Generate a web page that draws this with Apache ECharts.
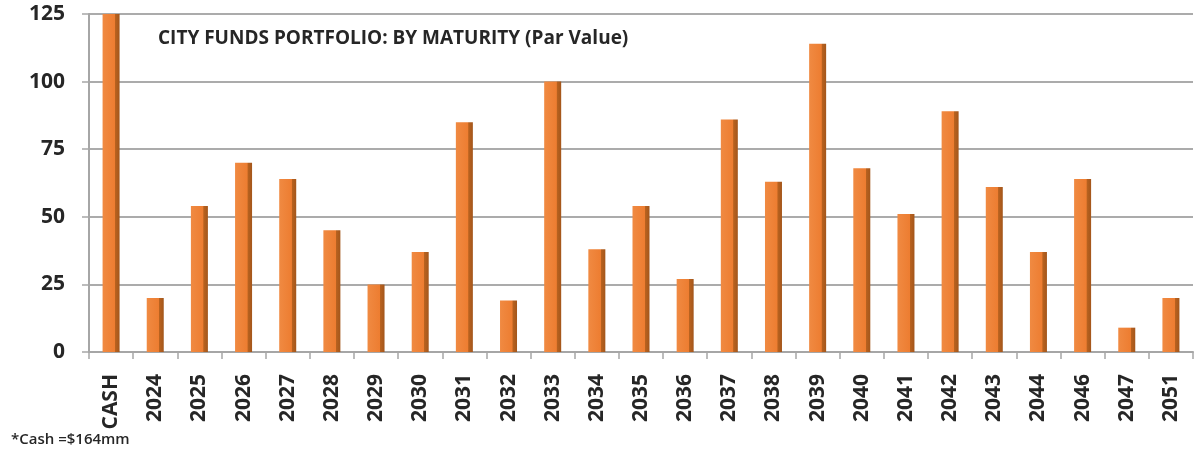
<!DOCTYPE html>
<html>
<head>
<meta charset="utf-8">
<script src="https://cdn.jsdelivr.net/npm/echarts@6/dist/echarts.min.js"></script>
<style>
  html, body { margin: 0; padding: 0; background: #ffffff; }
  #chart { width: 1196px; height: 451px; }
</style>
</head>
<body>
<div id="chart"></div>
<script>
var categories = ['CASH','2024','2025','2026','2027','2028','2029','2030','2031','2032','2033','2034','2035','2036','2037','2038','2039','2040','2041','2042','2043','2044','2046','2047','2051'];
var parValues = [164, 20, 54, 70, 64, 45, 25, 37, 85, 19, 100, 38, 54, 27, 86, 63, 114, 68, 51, 89, 61, 37, 64, 9, 20];
var yTicks = [0, 25, 50, 75, 100, 125];
var titleText = 'CITY FUNDS PORTFOLIO: BY MATURITY (Par Value)';
var footnoteText = '*Cash =$164mm';

var chart = echarts.init(document.getElementById('chart'), null, { renderer: 'canvas' });
var barColor = new echarts.graphic.LinearGradient(0, 0, 1, 0, [
  { offset: 0, color: '#F08A42' },
  { offset: 0.72, color: '#ED7D31' },
  { offset: 0.75, color: '#B9621F' },
  { offset: 1, color: '#A3561B' }
]);
var option = {
  backgroundColor: '#ffffff',
  animation: false,
  textStyle: { fontFamily: 'Open Sans' },
  graphic: [
    { type: 'text', left: 158, top: 29, style: { text: titleText, font: 'bold 19px "Open Sans"', fill: '#262626' } },
    { type: 'text', left: 11, top: 432, style: { text: footnoteText, font: '600 15px "Open Sans"', fill: '#262626' } }
  ],
  grid: { left: 89, right: 3, top: 14, bottom: 99, containLabel: false },
  xAxis: {
    type: 'category',
    data: categories,
    boundaryGap: true,
    axisLine: { show: true, lineStyle: { color: '#A6A6A6', width: 2 } },
    axisTick: { show: true, length: 7, lineStyle: { color: '#A6A6A6', width: 1.5 } },
    axisLabel: { rotate: 90, interval: 0, margin: 22, color: '#262626', fontWeight: 'bold', fontSize: 21, fontFamily: 'Open Sans' }
  },
  yAxis: {
    type: 'value',
    min: 0,
    max: 125,
    interval: 25,
    axisLine: { show: true, lineStyle: { color: '#A6A6A6', width: 2 } },
    axisTick: { show: true, length: 7, lineStyle: { color: '#A6A6A6', width: 1.5 } },
    axisLabel: {
      margin: 24, color: '#262626', fontWeight: 'bold', fontSize: 21, fontFamily: 'Open Sans',
      formatter: function (v) { return yTicks.indexOf(v) >= 0 ? String(v) : ''; }
    },
    splitLine: { show: true, lineStyle: { color: '#ABABAB', width: 2 } }
  },
  series: [{
    type: 'bar',
    data: parValues,
    barWidth: 17,
    clip: true,
    itemStyle: { color: barColor }
  }]
};
chart.setOption(option);
</script>
</body>
</html>
